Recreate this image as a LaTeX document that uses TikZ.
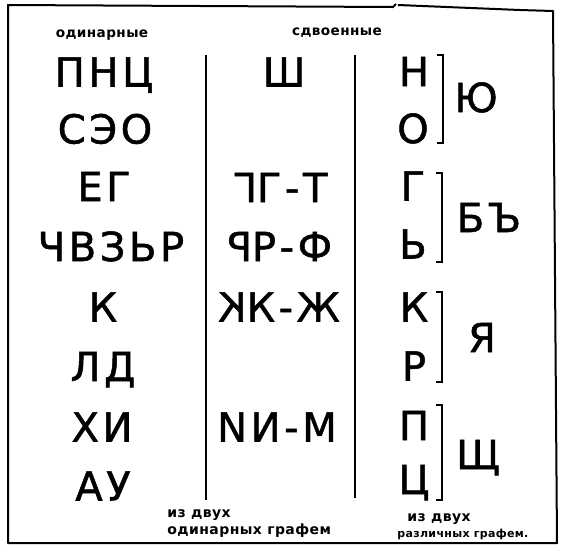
\documentclass[tikz,border=0pt]{standalone}
\usepackage{fontspec}
\usepackage{graphicx}
\setmainfont{DejaVu Sans}
\newfontfamily\glyphfont{DejaVu Sans}[LetterSpace=9, FakeBold=1.3]
\newfontfamily\notefont{DejaVu Sans Bold}[LetterSpace=3]

\begin{document}
\begin{tikzpicture}[
    x=0.5pt, y=-0.5pt,
    glyph/.style={font=\glyphfont\fontsize{20}{20}\selectfont, inner sep=0pt, anchor=base},
    header/.style={font=\notefont\fontsize{6.8}{7}\selectfont, inner sep=0pt, anchor=base},
    note/.style={font=\notefont\fontsize{7}{7}\selectfont, inner sep=0pt, anchor=base west},
    frame/.style={line width=1pt, line join=round},
    rule/.style={line width=0.9pt},
    bracket/.style={line width=0.7pt}
]
    \useasboundingbox (0,0) rectangle (562,547);

    % frame with torn top edge
    \draw[frame] (396,4) -- (393,7) -- (8,5) -- (8,543) -- (557,543) -- (553,11) -- (520,10) -- (398,5);

    % headers
    \node[header] (hsingle) at (102,37) {одинарные};
    \node[header] (hdouble) at (337,35) {сдвоенные};

    % column rules
    \draw[rule] (206,55) -- (206,500);
    \draw[rule] (355,55) -- (355,498);

    % single graphemes
    \node[glyph] (s1) at (104,86.5) {ПНЦ};
    \node[glyph] (s2) at (105,143.5) {СЭО};
    \node[glyph] (s3) at (104,201) {ЕГ};
    \node[glyph] (s4) at (111,261) {ЧВЗЬР};
    \node[glyph] (s5) at (103,321.5) {К};
    \node[glyph] (s6) at (103,381) {ЛД};
    \node[glyph] (s7) at (102,441.5) {ХИ};
    \node[glyph] (s8) at (103,500.5) {АУ};

    % doubled graphemes
    \node[glyph] (d1) at (284,86.5) {Ш};
    \node[glyph] (d3) at (280,202) {\reflectbox{Г}Г-Т};
    \node[glyph] (d4) at (280,261) {\reflectbox{Р}Р-Ф};
    \node[glyph] (d5) at (279,321.5) {\reflectbox{К}К-Ж};
    \node[glyph] (d7) at (277,441.5) {NИ-М};

    % pairs of different graphemes
    \node[glyph] (g1) at (414,86) {Н};
    \node[glyph] (g2) at (413,143) {О};
    \node[glyph] (g3) at (413,200.5) {Г};
    \node[glyph] (g4) at (413,258.5) {Ь};
    \node[glyph] (g5) at (414,321.5) {К};
    \node[glyph] (g6) at (414,380.5) {Р};
    \node[glyph] (g7) at (414,440) {П};
    \node[glyph] (g8) at (414,494) {Ц};

    % brackets and results
    \draw[bracket] (437,55) -- (443,55) -- (443,143) -- (437,143);
    \draw[bracket] (436,173) -- (442,173) -- (442,262) -- (436,262);
    \draw[bracket] (436,292) -- (442,292) -- (442,382) -- (436,382);
    \draw[bracket] (436,405) -- (442,405) -- (442,500) -- (436,500);
    \node[glyph] (ju) at (476,112) {Ю};
    \node[glyph] (bj) at (489,232) {БЪ};
    \node[glyph] (ja) at (482,352) {Я};
    \node[glyph] (sc) at (478,469) {Щ};

    % notes
    \node[note] (n1) at (167,517) {из двух};
    \node[note] (n2) at (167,534) {одинарных графем};
    \node[note] (n3) at (407,521) {из двух};
    \node[note, font=\notefont\fontsize{5.5}{6}\selectfont] (n4) at (397,537) {различных графем.};
\end{tikzpicture}
\end{document}
